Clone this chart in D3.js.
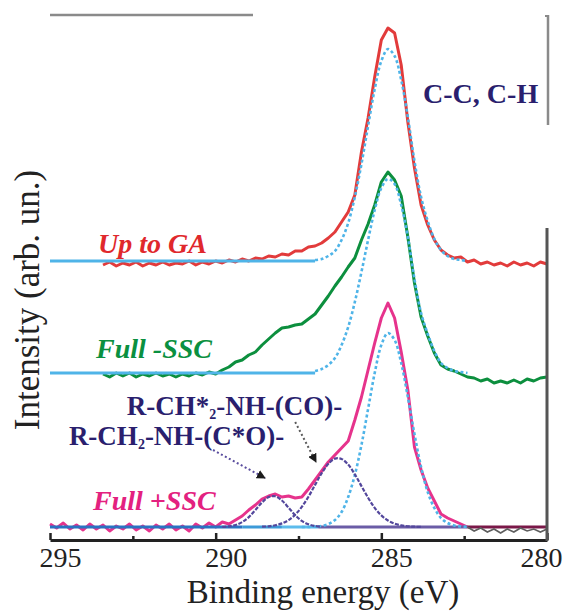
<!DOCTYPE html>
<html><head><meta charset="utf-8">
<script src="https://cdn.jsdelivr.net/npm/d3@7"></script>
<style>
html,body{margin:0;padding:0;background:#fff;}
svg{display:block;}
</style></head>
<body>
<svg id="chart" width="564" height="611"></svg>
<script>
// ---------------- DATA ----------------
const STEP = 0.2; // eV sampling step of the listed series (descending energy)

// measured spectra (arb. units), listed from start energy downwards
const upToGAStart = 293.4;
const upToGA = [262,265,261,264,262,265,261,264,262,265,
  262,264,263,266,262,265,263,266,264,267,
  265,268,266,269,268,271,270,273,272,276,
  276,280,281,284,289,295,305,315,332,375,
  409,450,487,499,494,462,405,359,322,302,
  287,277,272,269,270,265,267,263,265,262,
  264,261,265,262,264,261,265,263];

const fullMinusSSCStart = 293.4;
const fullMinusSSC = [153,150,154,151,154,150,153,151,154,151,
  153,150,153,151,154,152,155,153,157,160,
  165,167,172,175,182,188,194,199,200,202,
  203,208,213,222,231,241,250,260,269,287,
  303,322,345,355,347,331,290,244,210,191,
  174,162,158,156,153,150,149,146,148,144,
  146,144,147,144,148,146,149,150];

const fullPlusSSCStart = 295.0;
const fullPlusSSC = [3,-1,4,-2,2,-3,3,-2,2,-4,
  1,-2,3,-3,1,-4,2,-2,3,-3,
  1,-4,3,-1,4,0,5,3,7,11,
  17,22,28,31,33,30,31,29,30,38,
  47,56,65,72,79,86,107,130,157,184,
  209,224,209,175,137,80,57,39,26,13,
  9,6,3,0,-4,-1,-5,-2,-6,-2,
  -5,-1,-4,-2,-5,-2];
const fullPlusTailE = 282.4; // below this energy the trace is grey

// fitted components
const fitUpToGABase = 266;
const fitUpToGAStart = 287.0;
const fitUpToGA = [267,268,271,276,287,304,330,363,401,438,
  466,478,471,447,410,366,330,306,288,277,271,268,267,266];

const fitFullMinusBase = 154;
const fitFullMinusStart = 287.0;
const fitFullMinus = [156,158,162,169,182,200,225,255,287,317,
  339,348,343,322,290,248,214,193,176,164,159,156,155,154];

const fitCCStart = 287.4;  // C-C, C-H component of Full +SSC
const fitCC = [0,0,0.4,1.1,3,7,15,30,52,82,118,154,182,194,187,164,130,93,60,35,19,9,4,1.6,0.6,0.2];
const fitCOStart = 289.8;  // R-CH2-NH-(C*O)-
const fitCO = [0.2,0.7,2,4.9,9.9,17,24.6,29.9,30.7,26.5,19.3,11.8,6.1,2.7,1,0.3];
const fitCH2Start = 288.6; // R-CH*2-NH-(CO)-
const fitCH2 = [0.3,0.7,1.7,3.6,6.9,12.3,20.1,30.3,42.1,53.8,63.2,68.4,68.1,62.4,52.7,40.9,29.2,19.2,11.6,6.5,3.3,1.6,0.7,0.3,0.1];

const plusBaselineBreaks = [295, 289.2, 288.0, 286.9, 282.4, 280];
const solidBaseEnd = 287.0;

const xTicks = [295, 290, 285, 280];
const xMinorTicks = [292.5, 287.5, 282.5];

const seriesLabels = [
  {text: "Up to GA", e: 293.55, v: 274, key: "red"},
  {text: "Full -SSC", e: 293.61, v: 169, key: "green"},
  {text: "Full +SSC", e: 293.70, v: 17, key: "magenta"}
];
const arrows = [
  {e1: 290.08, v1: 77, e2: 288.51, v2: 49, key: "a1"},
  {e1: 287.60, v1: 105, e2: 286.97, v2: 65, key: "a2"}
];

// ---------------- DRAW ----------------
const FONT = "Liberation Serif";
const svg = d3.select("#chart");
const x = d3.scaleLinear().domain([295, 280]).range([50, 547]);
const y = d3.scaleLinear().domain([0, 500]).range([527, 27]);

const pts = (start, arr) => arr.map((v, i) => ({e: +(start - i * STEP).toFixed(3), v}));
const line = d3.line().x(d => x(d.e)).y(d => y(d.v));
const smooth = d3.line().x(d => x(d.e)).y(d => y(d.v)).curve(d3.curveCatmullRom);

const C = {
  red: "#e23b3b", green: "#0c8f3e", magenta: "#e6338c", grey: "#5e5e5e",
  fit: "#4fb4e8", purple: "#53479c", navy: "#2a1f6e",
  redText: "#e0282c", greenText: "#0a9040", magentaText: "#e3217f"
};

// frame fragments
svg.append("line").attr("x1", 50).attr("x2", 253).attr("y1", 15).attr("y2", 15)
  .attr("stroke", "#8a8a8a").attr("stroke-width", 2.5);
svg.append("line").attr("x1", 548).attr("x2", 548).attr("y1", 15).attr("y2", 125)
  .attr("stroke", "#8a8a8a").attr("stroke-width", 2.5);
svg.append("line").attr("x1", 545).attr("x2", 549).attr("y1", 16).attr("y2", 16)
  .attr("stroke", "#8a8a8a").attr("stroke-width", 2);

// data traces
const plusPts = pts(fullPlusSSCStart, fullPlusSSC);
svg.append("path").attr("d", line(pts(upToGAStart, upToGA)))
  .attr("fill", "none").attr("stroke", C.red).attr("stroke-width", 3).attr("stroke-linejoin", "round");
svg.append("path").attr("d", line(pts(fullMinusSSCStart, fullMinusSSC)))
  .attr("fill", "none").attr("stroke", C.green).attr("stroke-width", 3).attr("stroke-linejoin", "round");
svg.append("path").attr("d", line(plusPts.filter(d => d.e >= fullPlusTailE)))
  .attr("fill", "none").attr("stroke", C.magenta).attr("stroke-width", 3).attr("stroke-linejoin", "round");

// Full +SSC baseline segments
const baseColors = ["#2a72c2", "#3c9ad8", "#5cbbec", "#6a5ca6", "#7a1848"];
for (let i = 0; i < plusBaselineBreaks.length - 1; i++) {
  svg.append("line")
    .attr("x1", x(plusBaselineBreaks[i])).attr("x2", x(plusBaselineBreaks[i + 1]))
    .attr("y1", y(0)).attr("y2", y(0))
    .attr("stroke", baseColors[i]).attr("stroke-width", 3);
}
svg.append("path").attr("d", line(plusPts.filter(d => d.e <= fullPlusTailE)))
  .attr("fill", "none").attr("stroke", C.grey).attr("stroke-width", 1.6);

// solid baselines of the upper fits
[fitUpToGABase, fitFullMinusBase].forEach(b => {
  svg.append("line").attr("x1", x(295)).attr("x2", x(solidBaseEnd))
    .attr("y1", y(b)).attr("y2", y(b))
    .attr("stroke", C.fit).attr("stroke-width", 3);
});

// dashed light blue fits
[[fitUpToGAStart, fitUpToGA], [fitFullMinusStart, fitFullMinus], [fitCCStart, fitCC]].forEach(([s, a]) => {
  svg.append("path").attr("d", smooth(pts(s, a)))
    .attr("fill", "none").attr("stroke", C.fit).attr("stroke-width", 2.6)
    .attr("stroke-dasharray", "3,2.5");
});
// purple components
[[fitCOStart, fitCO], [fitCH2Start, fitCH2]].forEach(([s, a]) => {
  svg.append("path").attr("d", smooth(pts(s, a)))
    .attr("fill", "none").attr("stroke", C.purple).attr("stroke-width", 2.2)
    .attr("stroke-dasharray", "4,1.5");
});

// arrows
const defs = svg.append("defs");
defs.append("marker").attr("id", "ah").attr("viewBox", "0 0 10 10")
  .attr("refX", 9).attr("refY", 5).attr("markerWidth", 9).attr("markerHeight", 9)
  .attr("markerUnits", "userSpaceOnUse").attr("orient", "auto")
  .append("path").attr("d", "M0,0 L10,5 L0,10 z").attr("fill", "#1c1c1c");
const arrowStroke = {a1: "#5a4d9e", a2: "#5a5a5a"};
arrows.forEach(a => {
  svg.append("line").attr("x1", x(a.e1)).attr("y1", y(a.v1)).attr("x2", x(a.e2)).attr("y2", y(a.v2))
    .attr("stroke", arrowStroke[a.key]).attr("stroke-width", 2).attr("stroke-dasharray", "2,2.5")
    .attr("marker-end", "url(#ah)");
});

// axes
const gx = svg.append("g").attr("transform", `translate(0,${y(-13)})`)
  .call(d3.axisBottom(x).tickValues(xTicks).tickSize(-7).tickSizeOuter(0).tickFormat(d3.format("d")));
gx.attr("font-family", FONT).attr("font-size", 28);
gx.select(".domain").attr("stroke", "#222").attr("stroke-width", 3);
gx.selectAll(".tick line").attr("stroke", "#222").attr("stroke-width", 2.5);
gx.selectAll(".tick text").attr("y", 27).attr("dy", "0")
  .attr("dx", d => d === 280 ? -6 : 10)
  .attr("font-family", FONT).attr("font-size", 28).attr("fill", "#222");
const gm = svg.append("g").attr("transform", `translate(0,${y(-13)})`)
  .call(d3.axisBottom(x).tickValues(xMinorTicks).tickSize(-4).tickSizeOuter(0).tickFormat(""));
gm.select(".domain").remove();
gm.selectAll(".tick line").attr("stroke", "#222").attr("stroke-width", 2.5);

// right axis line
svg.append("line").attr("x1", 547).attr("x2", 547).attr("y1", y(299)).attr("y2", y(-13) + 1)
  .attr("stroke", "#555").attr("stroke-width", 3);

// axis titles
svg.append("text").attr("transform", "translate(39,300) rotate(-90)")
  .attr("text-anchor", "middle").attr("font-family", FONT).attr("font-size", 35)
  .attr("fill", "#222").text("Intensity (arb. un.)");
svg.append("text").attr("x", 323).attr("y", 603)
  .attr("text-anchor", "middle").attr("font-family", FONT).attr("font-size", 33)
  .attr("fill", "#222").text("Binding energy (eV)");

// series labels
const labelColor = {red: C.redText, green: C.greenText, magenta: C.magentaText};
seriesLabels.forEach(s => {
  svg.append("text").attr("x", x(s.e)).attr("y", y(s.v))
    .attr("font-family", FONT).attr("font-size", 28).attr("font-style", "italic")
    .attr("font-weight", "bold").attr("fill", labelColor[s.key]).text(s.text);
});

// component labels
svg.append("text").attr("x", x(283.74)).attr("y", y(424))
  .attr("font-family", FONT).attr("font-size", 28).attr("font-weight", "bold")
  .attr("fill", C.navy).text("C-C, C-H");

function compLabel(e, v, parts) {
  const t = svg.append("text").attr("x", x(e)).attr("y", y(v))
    .attr("font-family", FONT).attr("font-size", 27).attr("font-weight", "bold")
    .attr("fill", C.navy);
  parts.forEach(p => {
    const ts = t.append("tspan").text(p.t);
    if (p.sub) ts.attr("dy", 4).attr("font-size", 14);
    if (p.after) ts.attr("dy", -4);
  });
}
compLabel(292.68, 112, [{t: "R-CH*"}, {t: "2", sub: true}, {t: "-NH-(CO)-", after: true}]);
compLabel(294.43, 82, [{t: "R-CH"}, {t: "2", sub: true}, {t: "-NH-(C*O)-", after: true}]);
</script>
</body></html>
